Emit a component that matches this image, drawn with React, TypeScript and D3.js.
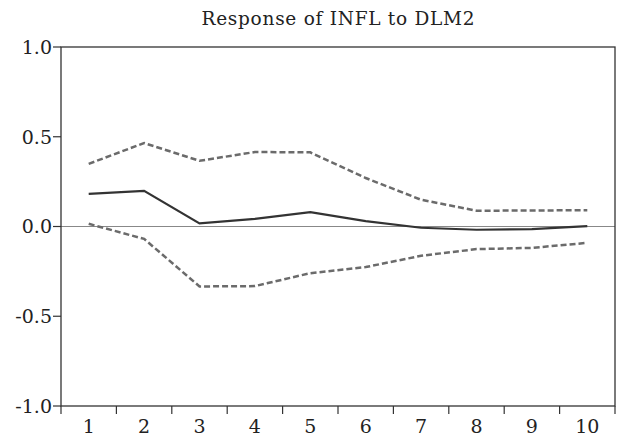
import React from 'react'
import * as d3 from 'd3'

const periods = [1, 2, 3, 4, 5, 6, 7, 8, 9, 10]
const response = [0.182, 0.199, 0.017, 0.043, 0.08, 0.03, -0.007, -0.018, -0.015, 0.002]
const upperBand = [0.349, 0.465, 0.366, 0.415, 0.413, 0.27, 0.149, 0.088, 0.089, 0.091]
const lowerBand = [0.015, -0.069, -0.334, -0.332, -0.26, -0.226, -0.163, -0.126, -0.119, -0.091]
const yTicks = [1.0, 0.5, 0.0, -0.5, -1.0]

const width = 619
const height = 445
const margin = { top: 47, right: 4, bottom: 39, left: 61 }
const font = '"DejaVu Serif", serif'

// hyphen rather than the unicode minus d3 uses
const fmt = (v: number) => v.toFixed(1)

export default function App() {
  const x = d3.scaleLinear()
    .domain([0.5, 10.5])
    .range([margin.left, width - margin.right])
  const y = d3.scaleLinear()
    .domain([-1, 1])
    .range([height - margin.bottom, margin.top])

  const line = (vals: number[]) =>
    d3.line<number>()
      .x((d, i) => x(periods[i]))
      .y(d => y(d))(vals) as string

  const x0 = x(0.5), x1 = x(10.5), y0 = y(-1), y1 = y(1)
  const xTicks = d3.range(0.5, 11, 1)

  return (
    <svg width={width} height={height} style={{ position: 'absolute', left: 0, top: 0, background: '#fff' }}>
      <text x={(x0 + x1) / 2} y={25} textAnchor="middle" fontFamily={font} fontSize={18.5} fill="#222"
        textLength={273} lengthAdjust="spacing">
        Response of INFL to DLM2
      </text>

      <line x1={x0} x2={x1} y1={y(0)} y2={y(0)} stroke="#888" strokeWidth={1} />

      <path d={line(upperBand)} fill="none" stroke="#6b6b6b" strokeWidth={2.5} strokeDasharray="6,3" />
      <path d={line(lowerBand)} fill="none" stroke="#6b6b6b" strokeWidth={2.5} strokeDasharray="6,3" />
      <path d={line(response)} fill="none" stroke="#333" strokeWidth={2.2} />

      <rect x={x0} y={y1} width={x1 - x0} height={y0 - y1} fill="none" stroke="#333" strokeWidth={1.3} />

      {yTicks.map(t => (
        <g key={t}>
          <line x1={x0 - 8} x2={x0} y1={y(t)} y2={y(t)} stroke="#333" strokeWidth={1.2} />
          <text x={x0 - 9} y={y(t)} dy="0.36em" textAnchor="end" fontFamily={font} fontSize={19} fill="#222">
            {fmt(t)}
          </text>
        </g>
      ))}

      {xTicks.map(t => (
        <line key={t} x1={x(t)} x2={x(t)} y1={y0} y2={y0 + 8} stroke="#333" strokeWidth={1.2} />
      ))}
      {periods.map(p => (
        <text key={p} x={x(p)} y={y0 + 27} textAnchor="middle" fontFamily={font} fontSize={19} fill="#222">
          {p}
        </text>
      ))}
    </svg>
  )
}
